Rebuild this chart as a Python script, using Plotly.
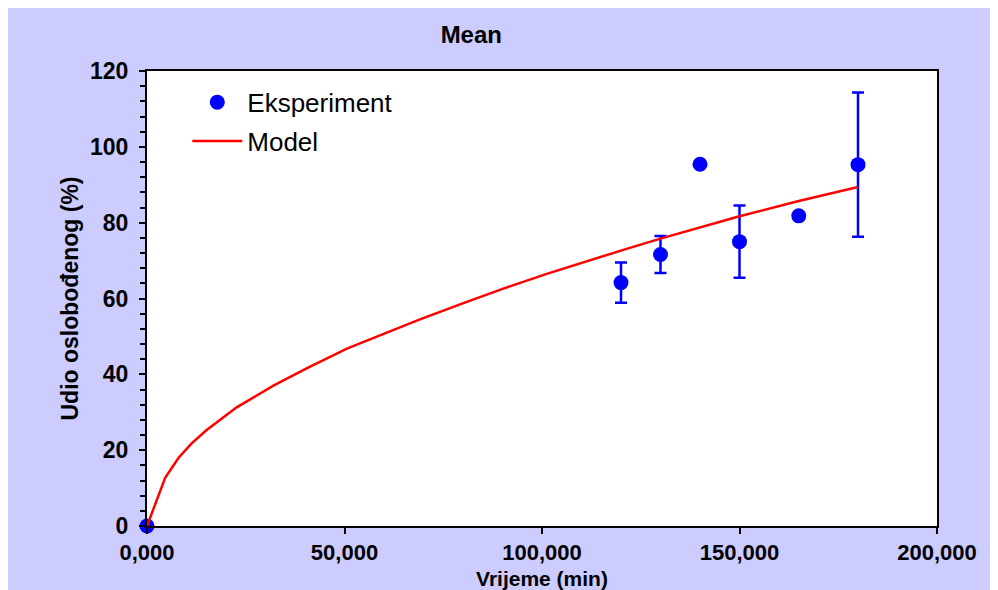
import plotly.graph_objects as go

# measured points (time in min, released %)
exp_t = [0, 120000, 130000, 140000, 150000, 165000, 180000]
exp_y = [0, 64.2, 71.6, 95.4, 75.0, 81.8, 95.3]
exp_err = [0, 5.3, 4.9, 0, 9.5, 0, 19.0]

# model curve
model_t = [0, 4600, 8000, 11300, 15100, 22700, 32000, 40400, 50600, 60000,
           69100, 80100, 90200, 101200, 111400, 121400, 130000, 150000, 165000, 180000]
model_y = [0, 12.7, 18.0, 21.8, 25.3, 31.3, 37.0, 41.6, 46.8, 50.8,
           54.5, 58.8, 62.6, 66.5, 69.9, 73.1, 75.8, 81.7, 85.7, 89.4]

x_ticks = [0, 50000, 100000, 150000, 200000]
x_ticktext = ['0,000', '50,000', '100,000', '150,000', '200,000']
y_ticks = [0, 20, 40, 60, 80, 100, 120]

BOLD = 'Liberation Sans'

fig = go.Figure()
fig.add_trace(go.Scatter(
    x=exp_t, y=exp_y, mode='markers', name='Eksperiment',
    marker=dict(color='#0000FF', size=15),
    error_y=dict(type='data', array=exp_err, visible=True, color='#0000FF', thickness=2.5, width=6),
    legendgroup='a', cliponaxis=False))
fig.add_trace(go.Scatter(
    x=model_t, y=model_y, mode='lines', name='Model',
    line=dict(color='#FF0000', width=2.5),
    legendgroup='b'))

# the page body adds ~8px white border, so the figure is a bit smaller
fig.update_layout(
    width=990, height=582,
    margin=dict(l=139, r=61, t=63, b=64, autoexpand=False),
    paper_bgcolor='#CCCCFF',
    plot_bgcolor='white',
    title=dict(text='<b>Mean</b>', x=0.468, xanchor='center', y=0.954, yanchor='middle',
               font=dict(family=BOLD, size=24, color='black')),
    showlegend=True,
    legend=dict(x=0.051, y=0.983, xanchor='left', yanchor='top', bgcolor='rgba(0,0,0,0)',
                font=dict(family=BOLD, size=26, color='black'),
                traceorder='grouped', tracegroupgap=2, itemwidth=50),
    font=dict(family=BOLD, color='black'),
)

fig.update_xaxes(
    range=[0, 200000], tickvals=x_ticks, ticktext=x_ticktext, automargin=False,
    showline=True, linecolor='black', linewidth=2, mirror=True, showgrid=False, zeroline=False,
    ticks='outside', ticklen=6, tickwidth=2, tickcolor='black', ticklabelstandoff=0,
    tickfont=dict(family=BOLD, size=22, weight='bold'),
    title=dict(text='<b>Vrijeme (min)</b>', font=dict(family=BOLD, size=21), standoff=8))
fig.update_yaxes(
    range=[0, 120], tickvals=y_ticks, automargin=False,
    showline=True, linecolor='black', linewidth=2, mirror=True, showgrid=False, zeroline=False,
    ticks='outside', ticklen=6, tickwidth=2, tickcolor='black', ticklabelstandoff=6,
    minor=dict(dtick=4, ticks='outside', ticklen=5, tickwidth=2, tickcolor='black', showgrid=False),
    tickfont=dict(family=BOLD, size=23, weight='bold'),
    title=dict(text='<b>Udio oslobođenog (%)</b>', font=dict(family=BOLD, size=23), standoff=5))

fig.write_html('out.html')
